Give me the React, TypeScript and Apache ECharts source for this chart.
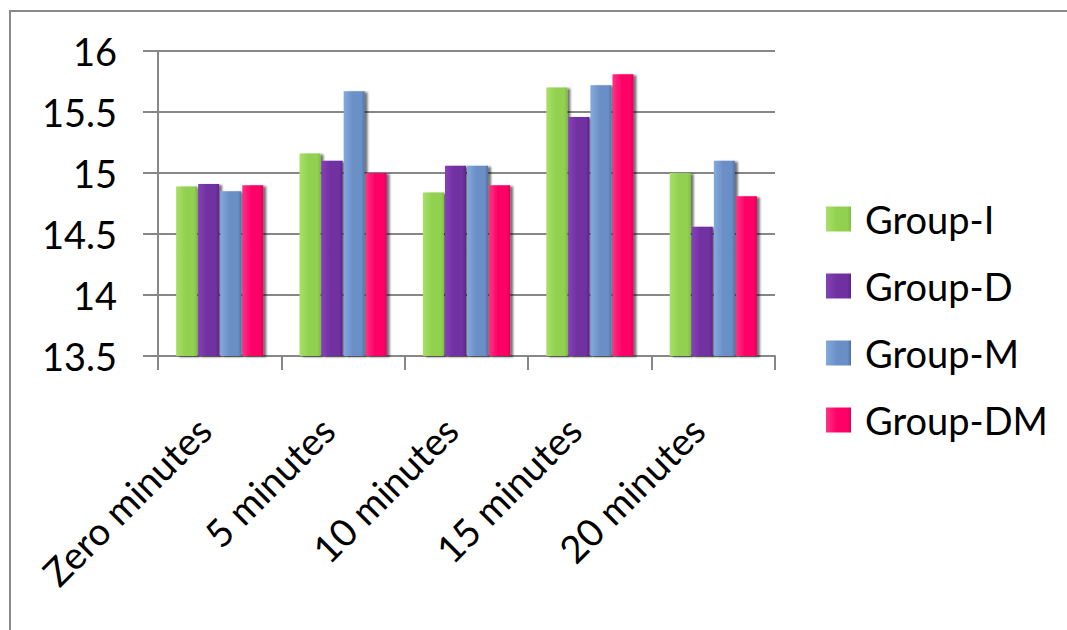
import React, { useEffect, useRef } from "react";
import * as echarts from "echarts";

// Time points on the category axis
const categories = ["Zero minutes", "5 minutes", "10 minutes", "15 minutes", "20 minutes"];

// Measured values per group
const groupI = [14.89, 15.16, 14.84, 15.7, 15.0];
const groupD = [14.91, 15.1, 15.06, 15.46, 14.56];
const groupM = [14.85, 15.67, 15.06, 15.72, 15.1];
const groupDM = [14.9, 15.0, 14.9, 15.81, 14.81];

const seriesNames = ["Group-I", "Group-D", "Group-M", "Group-DM"];
const seriesData = [groupI, groupD, groupM, groupDM];

// Value axis range
const yMin = 13.5;
const yMax = 16;
const yStep = 0.5;

// base, light edge, dark edge for each group
const palette: [string, string, string][] = [
  ["#92d050", "#a8e067", "#7fbf3e"],
  ["#7030a0", "#8540b8", "#5e2488"],
  ["#6a8fc6", "#84a9dc", "#4f73a8"],
  ["#ff0066", "#ff3384", "#dd0057"],
];

const FONT = "Lato, 'Open Sans', sans-serif";

function barFill(i: number) {
  const [base, light, dark] = palette[i];
  return new echarts.graphic.LinearGradient(0, 0, 1, 0, [
    { offset: 0, color: light },
    { offset: 0.45, color: base },
    { offset: 0.85, color: base },
    { offset: 1, color: dark },
  ]);
}

export default function App() {
  const ref = useRef<HTMLDivElement>(null);

  useEffect(() => {
    if (!ref.current) return;
    const chart = echarts.init(ref.current, undefined, { renderer: "svg" });

    const gridColor = "#878787";

    chart.setOption({
      animation: false,
      backgroundColor: "#ffffff",
      textStyle: { fontFamily: FONT },
      graphic: [
        {
          type: "polyline",
          shape: { points: [[10, 640], [10, 11], [1080, 11]] },
          style: { stroke: "#8a8a8a", lineWidth: 2, fill: "none" },
          silent: true,
        },
      ],
      grid: { left: 158, top: 51, width: 617, height: 305, containLabel: false },
      legend: {
        orient: "vertical",
        left: 821,
        top: 195,
        icon: "rect",
        itemWidth: 25,
        itemHeight: 25,
        itemGap: 29,
        data: seriesNames,
        textStyle: {
          fontFamily: FONT,
          fontSize: 38,
          color: "#000000",
          padding: [0, 0, 0, 9],
        },
      },
      xAxis: {
        type: "category",
        data: categories,
        axisLine: { show: true, lineStyle: { color: gridColor, width: 2 } },
        axisTick: { show: true, length: 14, lineStyle: { color: gridColor, width: 2 } },
        axisLabel: {
          interval: 0,
          rotate: 45,
          margin: 52,
          padding: [0, 22, 0, 0],
          fontFamily: FONT,
          fontSize: 38,
          color: "#000000",
        },
      },
      yAxis: {
        type: "value",
        min: yMin,
        max: yMax,
        interval: yStep,
        axisLine: { show: true, lineStyle: { color: gridColor, width: 2 } },
        axisTick: { show: true, length: 15, lineStyle: { color: gridColor, width: 2 } },
        splitLine: { show: true, lineStyle: { color: gridColor, width: 2 } },
        axisLabel: {
          margin: 41,
          fontFamily: FONT,
          fontSize: 38,
          color: "#000000",
          formatter: (v: number) => String(v),
        },
      },
      series: seriesNames.map((name, i) => ({
        name,
        type: "bar",
        data: seriesData[i],
        barWidth: 21,
        barGap: "5%",
        itemStyle: {
          color: barFill(i),
          shadowColor: "rgba(0,0,0,0.55)",
          shadowOffsetX: 3,
          shadowOffsetY: 1,
          shadowBlur: 2,
        },
      })),
      color: palette.map((p) => p[0]),
    });

    return () => chart.dispose();
  }, []);

  return (
    <div
      ref={ref}
      style={{ position: "fixed", left: 0, top: 0, width: 1067, height: 630 }}
    />
  );
}
